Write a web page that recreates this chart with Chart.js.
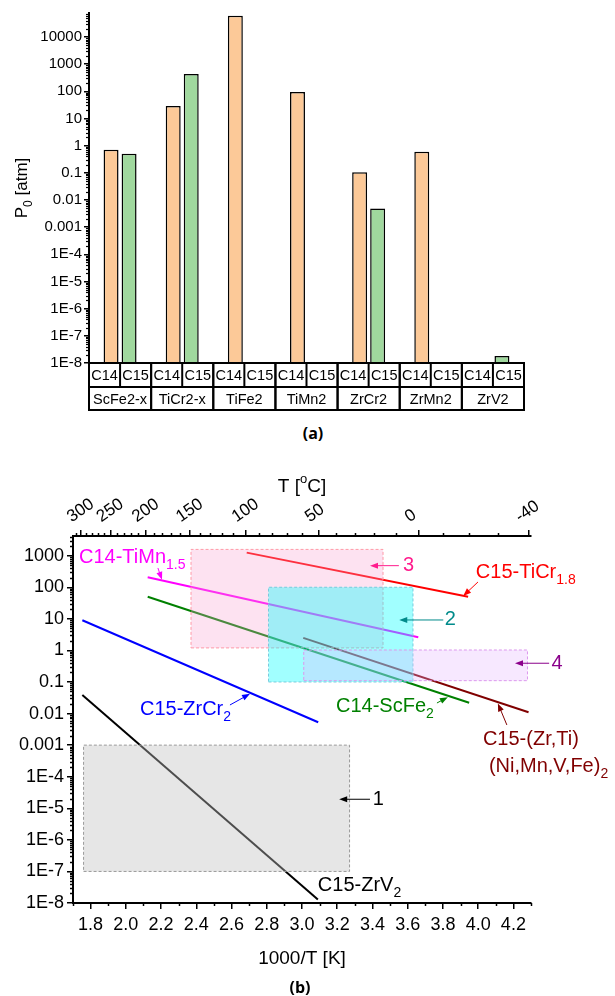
<!DOCTYPE html>
<html>
<head>
<meta charset="utf-8">
<script src="https://cdn.jsdelivr.net/npm/chart.js@4.4.0/dist/chart.umd.min.js"></script>
<style>
  body { margin: 0; background: #fff; width: 615px; height: 996px; position: relative; overflow: hidden; }
  #wrapA { position: absolute; left: 0; top: 0; width: 615px; height: 420px; }
  #wrapB { position: absolute; left: 0; top: 440px; width: 615px; height: 556px; }
  .cap { position: absolute; font-family: 'Open Sans', sans-serif; font-weight: bold; font-size: 16px; line-height: 20px; transform: translateX(-50%); color: #000; }
</style>
</head>
<body>
<div id="wrapA"><canvas id="chartA" width="615" height="420"></canvas></div>
<div class="cap" style="left:313px; top:423px;">(a)</div>
<div id="wrapB"><canvas id="chartB" width="615" height="556"></canvas></div>
<div class="cap" style="left:300px; top:977px;">(b)</div>
<script>
'use strict';

// ---------- (a) plateau pressure per alloy ----------
const alloys = ['ScFe2-x', 'TiCr2-x', 'TiFe2', 'TiMn2', 'ZrCr2', 'ZrMn2', 'ZrV2'];
const phases = ['C14', 'C15'];
const p0C14 = [0.7, 29, 60000, 95, 0.105, 0.6, null];
const p0C15 = [0.5, 430, null, null, 0.0049, null, 1.8e-8];
const pTicksA = [1e-8, 1e-7, 1e-6, 1e-5, 1e-4, 1e-3, 0.01, 0.1, 1, 10, 100, 1000, 10000];

// ---------- (b) van 't Hoff lines ----------
const invTTicks = [1.8, 2.0, 2.2, 2.4, 2.6, 2.8, 3.0, 3.2, 3.4, 3.6, 3.8, 4.0, 4.2];
const tempTicks = [300, 250, 200, 150, 100, 50, 0, -40];
const pTicksB = [1e-8, 1e-7, 1e-6, 1e-5, 1e-4, 1e-3, 0.01, 0.1, 1, 10, 100, 1000];

const tiMnX = [2.124, 3.660], tiMnP = [207, 2.6];
const tiCrX = [2.686, 3.943], tiCrP = [1250, 50];
const scFeX = [2.124, 3.949], scFeP = [50, 0.022];
const zrCrX = [1.753, 3.092], zrCrP = [9, 0.0053];
const zrVX = [1.753, 3.090], zrVP = [0.039, 1.3e-8];
const zrTiX = [3.007, 4.286], zrTiP = [2.5, 0.011];

// shaded ranges 1-4
const box1X = [1.76, 3.27], box1P = [1e-7, 1e-3];
const box2X = [2.81, 3.63], box2P = [0.1, 100];
const box3X = [2.37, 3.46], box3P = [1.2, 1580];
const box4X = [3.01, 4.28], box4P = [0.11, 1.03];

const FONT = '"Liberation Sans", Arial, sans-serif';
Chart.defaults.font.family = FONT;
Chart.defaults.color = '#000';

function fmtP( v ) {
  const e = Math.round( Math.log10( v ) );
  if ( e >= 0 ) return String( Math.pow( 10, e ) );
  if ( e >= -3 ) return Math.pow( 10, e ).toFixed( -e );
  return '1E' + e;
}

function pts( xs, ps ) {
  return xs.map( ( x, i ) => ( { x: x, y: ps[i] } ) );
}

function rect( xs, ps ) {
  return [
    { x: xs[0], y: ps[0] }, { x: xs[1], y: ps[0] }, { x: xs[1], y: ps[1] },
    { x: xs[0], y: ps[1] }, { x: xs[0], y: ps[0] }
  ];
}

function logMinors( min, max ) {
  let out = [];
  for ( let d = Math.floor( Math.log10( min ) ); d <= Math.ceil( Math.log10( max ) ); d++ ) {
    for ( let m = 2; m <= 9; m++ ) {
      const v = m * Math.pow( 10, d );
      if ( v > min && v < max ) out.push( v );
    }
  }
  return out;
}

// text with sub (1) / superscript (2) parts
function richText( ctx, parts, x, y, size ) {
  let cx = x;
  parts.forEach( ( [t, kind] ) => {
    const s = kind === 0 ? size : Math.round( size * 0.7 );
    const dy = kind === 1 ? size * 0.3 : ( kind === 2 ? -size * 0.45 : 0 );
    ctx.font = s + 'px ' + FONT;
    ctx.fillText( t, cx, y + dy );
    cx += ctx.measureText( t ).width;
  } );
  return cx - x;
}

function richWidth( ctx, parts, size ) {
  let w = 0;
  parts.forEach( ( [t, kind] ) => {
    ctx.font = ( kind === 0 ? size : Math.round( size * 0.7 ) ) + 'px ' + FONT;
    w += ctx.measureText( t ).width;
  } );
  return w;
}

function tick( ctx, x1, y1, x2, y2 ) {
  ctx.beginPath();
  ctx.moveTo( x1, y1 );
  ctx.lineTo( x2, y2 );
  ctx.stroke();
}

function arrow( ctx, x1, y1, x2, y2, color ) {
  const a = Math.atan2( y2 - y1, x2 - x1 );
  ctx.strokeStyle = color;
  ctx.fillStyle = color;
  ctx.lineWidth = 1;
  tick( ctx, x1, y1, x2 - 5 * Math.cos( a ), y2 - 5 * Math.sin( a ) );
  ctx.beginPath();
  ctx.moveTo( x2, y2 );
  ctx.lineTo( x2 - 8 * Math.cos( a ) + 3 * Math.sin( a ), y2 - 8 * Math.sin( a ) - 3 * Math.cos( a ) );
  ctx.lineTo( x2 - 8 * Math.cos( a ) - 3 * Math.sin( a ), y2 - 8 * Math.sin( a ) + 3 * Math.cos( a ) );
  ctx.closePath();
  ctx.fill();
}

// ---------- chart (a) ----------
const chartAExtras = {
  id: 'chartAExtras',
  afterDraw( chart ) {
    const ctx = chart.ctx;
    const area = chart.chartArea;
    const xs = chart.scales.x;
    const ys = chart.scales.y;
    ctx.save();

    // minor log ticks
    ctx.strokeStyle = '#000';
    ctx.lineWidth = 1.2;
    logMinors( ys.min, ys.max ).forEach( v => {
      const y = Math.round( ys.getPixelForValue( v ) ) + 0.5;
      tick( ctx, ys.right - 3, y, ys.right, y );
    } );

    // category table under the bars
    const top = area.bottom;
    const h1 = 24;
    const h2 = 23;
    const cw = ( xs.right - xs.left ) / alloys.length;
    ctx.lineWidth = 2;
    [top, top + h1, top + h1 + h2].forEach( y => tick( ctx, xs.left - 1, y, xs.right + 1, y ) );
    ctx.fillStyle = '#000';
    ctx.textAlign = 'center';
    ctx.textBaseline = 'middle';
    ctx.font = '14.5px ' + FONT;
    alloys.forEach( ( name, i ) => {
      const c = xs.getPixelForValue( i );
      tick( ctx, c - cw / 2, top, c - cw / 2, top + h1 + h2 );
      tick( ctx, c + cw / 2, top, c + cw / 2, top + h1 + h2 );
      tick( ctx, c, top, c, top + h1 );
      phases.forEach( ( p, j ) => ctx.fillText( p, c + ( j - 0.5 ) * cw / 2, top + h1 / 2 + 1 ) );
      ctx.fillText( name, c, top + h1 + h2 / 2 + 1 );
    } );

    // y title P0 [atm]
    const parts = [['P', 0], ['0', 1], [' [atm]', 0]];
    ctx.textAlign = 'left';
    ctx.textBaseline = 'alphabetic';
    ctx.translate( 27, ( area.top + area.bottom ) / 2 );
    ctx.rotate( -Math.PI / 2 );
    const w = richWidth( ctx, parts, 17 );
    richText( ctx, parts, -w / 2, 0, 17 );
    ctx.restore();
  }
};

new Chart( document.getElementById( 'chartA' ), {
  type: 'bar',
  data: {
    labels: alloys,
    datasets: [{
      label: 'C14',
      data: p0C14,
      backgroundColor: '#FCC998',
      borderColor: '#000',
      borderWidth: 1.5,
      categoryPercentage: 0.58,
      barPercentage: 0.83
    }, {
      label: 'C15',
      data: p0C15,
      backgroundColor: '#A0D89E',
      borderColor: '#000',
      borderWidth: 1.5,
      categoryPercentage: 0.58,
      barPercentage: 0.83
    }]
  },
  options: {
    responsive: false,
    animation: false,
    layout: { padding: { top: 13, right: 91, left: 0, bottom: 0 } },
    plugins: { legend: { display: false }, tooltip: { enabled: false } },
    scales: {
      x: {
        type: 'category',
        offset: true,
        grid: { display: false },
        border: { display: false },
        ticks: { display: false },
        afterFit: s => { s.height = 57; }
      },
      y: {
        type: 'logarithmic',
        min: 1e-8,
        max: 7.6e4,
        afterBuildTicks: s => { s.ticks = pTicksA.map( v => ( { value: v } ) ); },
        ticks: { callback: v => fmtP( v ), font: { size: 15 }, padding: 2, autoSkip: false },
        grid: { drawOnChartArea: false, tickLength: 5, color: '#000', lineWidth: 1.5 },
        border: { color: '#000', width: 2 },
        afterFit: s => { s.width = 89; }
      }
    }
  },
  plugins: [chartAExtras]
} );

// ---------- chart (b) ----------
const notesB = [
  { parts: [['C14-TiMn', 0], ['1.5', 1]], at: [1.734, 589], color: '#FF00FF', from: [2.182, 408], to: [2.205, 172] },
  { parts: [['C15-TiCr', 0], ['1.8', 1]], at: [3.987, 197], color: '#FF0000', from: [3.999, 147], to: [3.915, 53] },
  { parts: [['C14-ScFe', 0], ['2', 1]], at: [3.193, 0.0115], color: '#008000', from: [3.766, 0.0216], to: [3.828, 0.033] },
  { parts: [['C15-ZrCr', 0], ['2', 1]], at: [2.080, 0.009], color: '#0000FF', from: [2.591, 0.0187], to: [2.705, 0.042] },
  { parts: [['C15-(Zr,Ti)', 0]], at: [4.027, 0.00101], color: '#800000', from: [4.163, 0.00435], to: [4.112, 0.021] },
  { parts: [['(Ni,Mn,V,Fe)', 0], ['2', 1]], at: [4.061, 1.44e-4], color: '#800000' },
  { parts: [['C15-ZrV', 0], ['2', 1]], at: [3.09, 2.4e-8], color: '#000000' },
  { parts: [['1', 0]], at: [3.401, 1.93e-5], mid: true, color: '#000000', from: [3.386, 1.93e-5], to: [3.211, 1.93e-5] },
  { parts: [['2', 0]], at: [3.811, 9.2], mid: true, color: '#008B8B', from: [3.802, 9.2], to: [3.552, 9.2] },
  { parts: [['3', 0]], at: [3.573, 483], mid: true, color: '#FF1C8D', from: [3.550, 483], to: [3.386, 483] },
  { parts: [['4', 0]], at: [4.417, 0.392], mid: true, color: '#8B008B', from: [4.403, 0.392], to: [4.209, 0.392] }
];

const chartBExtras = {
  id: 'chartBExtras',
  afterDraw( chart ) {
    const ctx = chart.ctx;
    const area = chart.chartArea;
    const xs = chart.scales.x;
    const xt = chart.scales.x2;
    const ys = chart.scales.y;
    const px = v => xs.getPixelForValue( v );
    const py = v => ys.getPixelForValue( v );
    ctx.save();

    // minor ticks
    ctx.strokeStyle = '#000';
    ctx.lineWidth = 1.5;
    logMinors( ys.min, ys.max ).forEach( v => {
      const y = Math.round( py( v ) ) + 0.5;
      tick( ctx, ys.right - 3, y, ys.right, y );
    } );
    for ( let k = 0; k <= 13; k++ ) {
      const x = Math.round( px( 1.7 + 0.2 * k ) ) + 0.5;
      tick( ctx, x, xs.top, x, xs.top + 3 );
    }
    for ( let t = 310; t >= -40; t -= 10 ) {
      if ( tempTicks.indexOf( t ) >= 0 ) continue;
      const x = Math.round( xt.getPixelForValue( 1000 / ( t + 273.15 ) ) ) + 0.5;
      if ( x < area.left || x > area.right ) continue;
      tick( ctx, x, xt.bottom - 3, x, xt.bottom );
    }

    // axis titles
    ctx.fillStyle = '#000';
    ctx.textAlign = 'left';
    ctx.textBaseline = 'alphabetic';
    const cx = ( area.left + area.right ) / 2;
    const tParts = [['T [', 0], ['o', 2], ['C]', 0]];
    richText( ctx, tParts, cx - richWidth( ctx, tParts, 19 ) / 2, area.top - 44, 19 );
    const bParts = [['1000/T [K]', 0]];
    richText( ctx, bParts, cx - richWidth( ctx, bParts, 19 ) / 2, area.bottom + 61, 19 );

    // labels and arrows
    notesB.forEach( n => {
      if ( n.from ) arrow( ctx, px( n.from[0] ), py( n.from[1] ), px( n.to[0] ), py( n.to[1] ), n.color );
      ctx.fillStyle = n.color;
      ctx.textBaseline = n.mid ? 'middle' : 'alphabetic';
      richText( ctx, n.parts, px( n.at[0] ), py( n.at[1] ), 20 );
    } );
    ctx.restore();
  }
};

function lineSet( label, xs, ps, color ) {
  return { label: label, data: pts( xs, ps ), borderColor: color, borderWidth: 2, pointRadius: 0, fill: false, order: 10 };
}

function boxSet( label, xs, ps, fill, edge, order ) {
  return {
    label: label, data: rect( xs, ps ), borderColor: edge, backgroundColor: fill,
    borderWidth: 1, borderDash: [3, 2], pointRadius: 0, fill: 'shape', order: order
  };
}

new Chart( document.getElementById( 'chartB' ), {
  type: 'line',
  data: {
    datasets: [
      boxSet( 'range 4', box4X, box4P, 'rgba(230,180,255,0.3)', '#DD99EE', 0 ),
      boxSet( 'range 2', box2X, box2P, 'rgba(0,255,255,0.37)', '#77CCDD', 1 ),
      boxSet( 'range 3', box3X, box3P, 'rgba(250,160,210,0.3)', '#FF9AA8', 2 ),
      boxSet( 'range 1', box1X, box1P, 'rgba(192,192,192,0.4)', '#999999', 3 ),
      lineSet( 'C14-TiMn1.5', tiMnX, tiMnP, '#FF00FF' ),
      lineSet( 'C15-TiCr1.8', tiCrX, tiCrP, '#FF0000' ),
      lineSet( 'C14-ScFe2', scFeX, scFeP, '#008000' ),
      lineSet( 'C15-ZrCr2', zrCrX, zrCrP, '#0000FF' ),
      lineSet( 'C15-ZrV2', zrVX, zrVP, '#000000' ),
      lineSet( 'C15-(Zr,Ti)(Ni,Mn,V,Fe)2', zrTiX, zrTiP, '#800000' )
    ]
  },
  options: {
    responsive: false,
    animation: false,
    layout: { padding: { top: 0, right: 84, left: 0, bottom: 0 } },
    plugins: { legend: { display: false }, tooltip: { enabled: false } },
    scales: {
      x: {
        type: 'linear',
        position: 'bottom',
        min: 1.7,
        max: 4.3,
        afterBuildTicks: s => { s.ticks = invTTicks.map( v => ( { value: v } ) ); },
        ticks: { callback: v => v.toFixed( 1 ), font: { size: 18 }, padding: 5, autoSkip: false, maxRotation: 0 },
        grid: { drawOnChartArea: false, tickLength: 6, color: '#000', lineWidth: 1.5 },
        border: { color: '#000', width: 2 },
        afterFit: s => { s.height = 93; }
      },
      x2: {
        type: 'linear',
        position: 'top',
        min: 1.7,
        max: 4.3,
        afterBuildTicks: s => { s.ticks = tempTicks.map( t => ( { value: 1000 / ( t + 273.15 ) } ) ); },
        ticks: { callback: v => String( Math.round( 1000 / v - 273.15 ) ), font: { size: 17 }, padding: 3, autoSkip: false, minRotation: 35, maxRotation: 35 },
        grid: { drawOnChartArea: false, tickLength: 6, color: '#000', lineWidth: 1.5 },
        border: { color: '#000', width: 2 },
        afterFit: s => { s.height = 96; }
      },
      y: {
        type: 'logarithmic',
        min: 1e-8,
        max: 4200,
        afterBuildTicks: s => { s.ticks = pTicksB.map( v => ( { value: v } ) ); },
        ticks: { callback: v => fmtP( v ), font: { size: 18 }, padding: 3, autoSkip: false },
        grid: { drawOnChartArea: false, tickLength: 6, color: '#000', lineWidth: 1.5 },
        border: { color: '#000', width: 2 },
        afterFit: s => { s.width = 73; }
      }
    }
  },
  plugins: [chartBExtras]
} );
</script>
</body>
</html>
